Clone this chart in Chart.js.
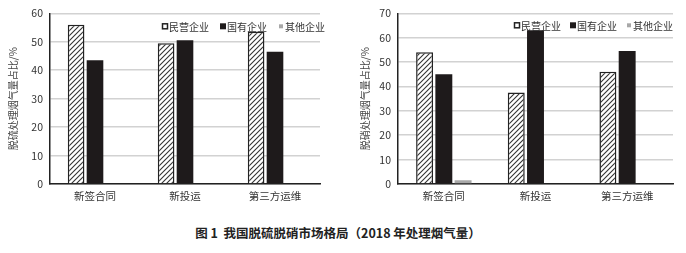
<!DOCTYPE html>
<html>
<head>
<meta charset="utf-8">
<script src="https://cdn.jsdelivr.net/npm/chart.js@4.4.0/dist/chart.umd.min.js"></script>
<style>
  body{margin:0;background:#fff;width:686px;height:253px;overflow:hidden;position:relative;font-family:"Noto Sans CJK SC",sans-serif;}
  .box{position:absolute;top:0;width:343px;height:210px;}
  #cap{position:absolute;left:0;width:676px;top:223px;text-align:center;font-size:12.5px;font-weight:bold;color:#222;}
</style>
</head>
<body>
<div class="box" style="left:0"><canvas id="c1" width="343" height="210"></canvas></div>
<div class="box" style="left:343px"><canvas id="c2" width="343" height="210"></canvas></div>
<div id="cap">图 1&nbsp; 我国脱硫脱硝市场格局（2018 年处理烟气量）</div>
<script>
// data
const cats = ['新签合同','新投运','第三方运维'];
const seriesNames = ['民营企业','国有企业','其他企业'];
const tuoliuMin = [56,49.5,53.5];   // 脱硫 民营
const tuoliuGuo = [43.5,50.5,46.5]; // 脱硫 国有
const tuoliuQt  = [0.3,0,0];
const tuoxiaoMin = [54,37.5,46];
const tuoxiaoGuo = [45,63,54.5];
const tuoxiaoQt  = [1.5,0,0];

const font = '"Noto Sans CJK SC", sans-serif';

function hatch(){
  let s=5, c=document.createElement('canvas'); c.width=s; c.height=s;
  let g=c.getContext('2d');
  g.fillStyle='#fff'; g.fillRect(0,0,s,s);
  g.strokeStyle='#333'; g.lineWidth=1.1;
  g.beginPath();
  g.moveTo(0,s); g.lineTo(s,0);
  g.moveTo(-1,1); g.lineTo(1,-1);
  g.moveTo(s-1,s+1); g.lineTo(s+1,s-1);
  g.stroke();
  return g.createPattern(c,'repeat');
}

// legend drawn inside plot, top right
const inLegend = {
  id:'inLegend',
  afterDraw(ch, args, opt){
    let g=ch.ctx, a=ch.chartArea;
    g.save();
    g.font='10px '+font;
    g.textBaseline='middle';
    let gap=opt.gap, bx=5, tg=2;
    let w=ch.data.datasets.reduce((s,ds)=>s+bx+tg+g.measureText(ds.label).width,0)+gap*2;
    let x=a.right+opt.dx-w, y=a.top+opt.dy;
    ch.data.datasets.forEach((ds,i)=>{
      if(i==0){ g.fillStyle='#fff'; g.fillRect(x,y-3,6,6); g.strokeStyle='#222'; g.lineWidth=1.5; g.strokeRect(x+0.5,y-2.5,5,5); }
      else if(i==1){ g.fillStyle=ds.backgroundColor; g.fillRect(x,y-3,6,6); }
      else { g.fillStyle=ds.backgroundColor; g.fillRect(x+1,y-2,4,4); }
      x+=bx+tg;
      g.fillStyle='#333';
      g.fillText(ds.label,x,y+0.5);
      x+=g.measureText(ds.label).width+gap;
    });
    g.restore();
  }
};

function makeChart(id, d1, d2, d3, max, title, padL, yw, padT, padR, lg){
  new Chart(document.getElementById(id), {
    type:'bar',
    data:{
      labels:cats,
      datasets:[
        {label:seriesNames[0], data:d1, backgroundColor:hatch(), borderColor:'#222', borderWidth:1.5},
        {label:seriesNames[1], data:d2, backgroundColor:'#1e1a1b', borderColor:'#1e1a1b', borderWidth:0},
        {label:seriesNames[2], data:d3, backgroundColor:'#a8a8a8', borderWidth:0}
      ]
    },
    plugins:[inLegend],
    options:{
      responsive:false, animation:false,
      layout:{padding:{left:padL, top:padT, right:padR, bottom:0}},
      datasets:{bar:{categoryPercentage:0.63, barPercentage:0.88}},
      plugins:{
        tooltip:{enabled:false},
        legend:{display:false},
        inLegend:lg
      },
      scales:{
        x:{
          grid:{display:false, drawTicks:false},
          border:{color:'#222', width:1.5},
          ticks:{font:{family:font, size:10.5}, color:'#333', padding:6},
          afterFit(s){ s.height=26; }
        },
        y:{
          min:0, max:max,
          ticks:{stepSize:10, font:{family:font, size:10.5}, color:'#333', padding:7},
          grid:{color:'#d2d2d2', lineWidth:1.6, drawTicks:false},
          border:{color:'#222', width:1.5},
          title:{display:true, text:title, font:{family:font, size:10}, color:'#444', padding:{top:4,bottom:0}},
          afterFit(s){ s.width=yw; }
        }
      }
    }
  });
}

makeChart('c1', tuoliuMin, tuoliuGuo, tuoliuQt, 60, '脱硫处理烟气量占比/%', 3, 47, 10, 23, {gap:11, dx:5, dy:13});
makeChart('c2', tuoxiaoMin, tuoxiaoGuo, tuoxiaoQt, 70, '脱硝处理烟气量占比/%', 12, 43, 9, 13, {gap:9, dx:0, dy:12});
</script>
</body>
</html>
